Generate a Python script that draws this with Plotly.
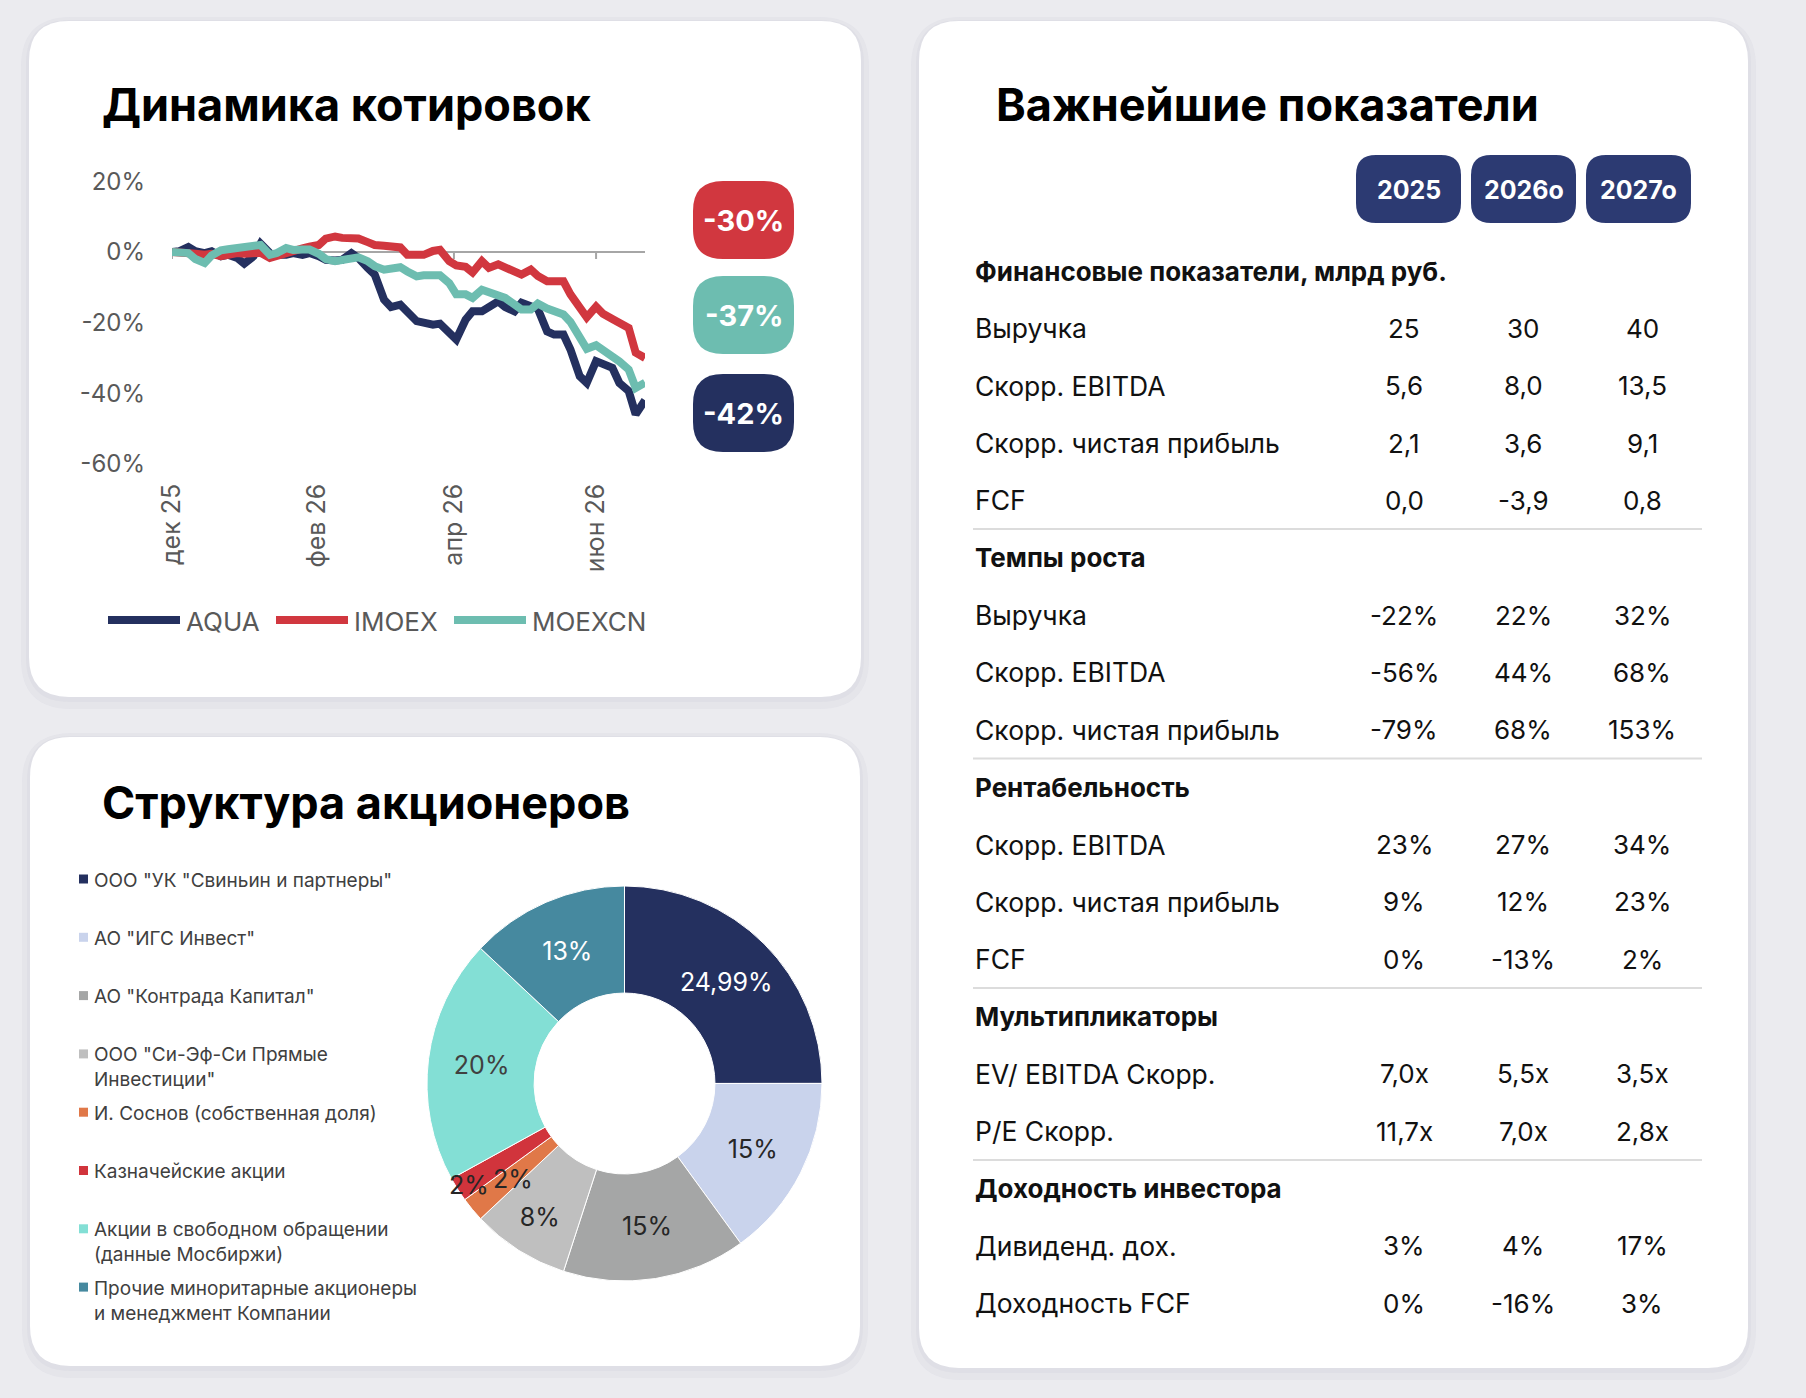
import math
import plotly.graph_objects as go

W, H = 1806, 1398

# Динамика котировок, % к 01.12.2025
dates = [
    "2025-12-01", "2025-12-04", "2025-12-08", "2025-12-11", "2025-12-15", "2025-12-18", "2025-12-22", "2025-12-25", "2025-12-29",
    "2026-01-01", "2026-01-05", "2026-01-08", "2026-01-12", "2026-01-15", "2026-01-19", "2026-01-22", "2026-01-26", "2026-01-29",
    "2026-02-02", "2026-02-05", "2026-02-09", "2026-02-12", "2026-02-16", "2026-02-19", "2026-02-23", "2026-02-26",
    "2026-03-02", "2026-03-05", "2026-03-09", "2026-03-12", "2026-03-16", "2026-03-19", "2026-03-23", "2026-03-26", "2026-03-30",
    "2026-04-02", "2026-04-06", "2026-04-09", "2026-04-13", "2026-04-16", "2026-04-20", "2026-04-23", "2026-04-27", "2026-04-30",
    "2026-05-04", "2026-05-07", "2026-05-11", "2026-05-14", "2026-05-18", "2026-05-21", "2026-05-25", "2026-05-28",
    "2026-06-01", "2026-06-04", "2026-06-08", "2026-06-11", "2026-06-15", "2026-06-18", "2026-06-22",
]
aqua = [
    0, 0.2, 1.4, 0.2, -0.3, 0.2, -1.2, -0.8, -1.7,
    -3.3, -1.2, 2.4, -0.3, -0.8, -0.8, -0.3, -0.8, -0.3,
    -1.2, -2.2, -2.4, -2.2, -0.3, -1.7, -4.5, -6.4,
    -13.5, -15.6, -14.9, -16.8, -19.6, -20.0, -20.6, -20.3, -22.9,
    -24.8, -19.2, -16.8, -16.8, -15.4, -14.0, -15.6, -16.8, -14.4,
    -15.2, -16.1, -22.5, -23.4, -23.4, -27.6, -35.2, -37.1,
    -30.9, -31.6, -32.8, -37.1, -39.4, -46.0, -42.0,
]
imoex = [
    0, 0, -0.3, -0.5, -0.8, -0.5, -1.2, -0.8, -0.3,
    -0.5, -0.5, -0.2, -1.7, -1.0, -0.5, 0.2, 1.0, 1.5,
    2.0, 3.8, 4.4, 4.0, 4.2, 3.8, 2.8, 2.0,
    1.8, 1.4, 1.3, -0.8, -1.0, -0.8, 0.3, 0.6, -2.6,
    -3.8, -4.2, -5.8, -2.6, -4.5, -3.5, -4.2, -5.5, -6.4,
    -5.0, -6.8, -8.3, -8.5, -8.3, -12.0, -16.0, -18.5,
    -15.5, -17.5, -19.0, -20.0, -21.5, -28.5, -30.0,
]
moexcn = [
    0, 0, -0.3, -2.0, -3.1, -1.0, 0.5, 0.8, 1.1,
    1.4, 1.8, 2.0, -0.8, -0.3, 1.1, 0.6, 0.7, 0.7,
    -0.5, -2.0, -2.6, -2.2, -1.8, -1.5, -2.6, -4.0,
    -5.0, -4.6, -4.3, -5.5, -6.9, -6.6, -6.9, -6.6, -8.8,
    -12.0, -12.0, -13.0, -10.7, -11.5, -12.5, -13.0, -14.9, -16.3,
    -16.3, -14.6, -16.0, -16.8, -17.7, -19.8, -24.3, -27.4,
    -26.4, -27.6, -29.8, -31.0, -33.3, -38.5, -37.0,
]
series_names = ["AQUA", "IMOEX", "MOEXCN"]
series_colors = ["#24305f", "#d1373f", "#6dbdb0"]

y_ticks = [-60, -40, -20, 0, 20]
y_ticktext = ["-60%", "-40%", "-20%", "0%", "20%"]
x_ticks = ["2025-12-01", "2026-02-01", "2026-04-01", "2026-06-01"]
x_ticktext = ["дек 25", "фев 26", "апр 26", "июн 26"]

# Структура акционеров
holders = [
    'ООО "УК "Свиньин и партнеры"',
    'АО "ИГС Инвест"',
    'АО "Контрада Капитал"',
    'ООО "Си-Эф-Си Прямые<br>Инвестиции"',
    'И. Соснов (собственная доля)',
    'Казначейские акции',
    'Акции в свободном обращении<br>(данные Мосбиржи)',
    'Прочие миноритарные акционеры<br>и менеджмент Компании',
]
shares = [24.99, 15, 15, 8, 2, 2, 20, 13]
pie_colors = ["#24305f", "#c9d3ec", "#a5a6a6", "#bfbfbf", "#e07848", "#d1343c", "#83dfd5", "#46899f"]
pie_text_colors = ["white", "#262626", "#262626", "#262626", "#262626", "#262626", "#404040", "white"]

# Важнейшие показатели
years = ["2025", "2026о", "2027о"]
sec_titles = ["Финансовые показатели, млрд руб.", "Темпы роста", "Рентабельность",
              "Мультипликаторы", "Доходность инвестора"]
fin_rows = ["Выручка", "Скорр. EBITDA", "Скорр. чистая прибыль", "FCF"]
fin_vals = [["25", "30", "40"], ["5,6", "8,0", "13,5"], ["2,1", "3,6", "9,1"], ["0,0", "-3,9", "0,8"]]
growth_rows = ["Выручка", "Скорр. EBITDA", "Скорр. чистая прибыль"]
growth_vals = [["-22%", "22%", "32%"], ["-56%", "44%", "68%"], ["-79%", "68%", "153%"]]
margin_rows = ["Скорр. EBITDA", "Скорр. чистая прибыль", "FCF"]
margin_vals = [["23%", "27%", "34%"], ["9%", "12%", "23%"], ["0%", "-13%", "2%"]]
mult_rows = ["EV/ EBITDA Скорр.", "P/E Скорр."]
mult_vals = [["7,0x", "5,5x", "3,5x"], ["11,7x", "7,0x", "2,8x"]]
yield_rows = ["Дивиденд. дох.", "Доходность FCF"]
yield_vals = [["3%", "4%", "17%"], ["0%", "-16%", "3%"]]

FONT = "Inter"


def px(x):
    return x / W


def py(y):
    return 1 - y / H


def rrect(x0, y0, x1, y1, r, color):
    p = lambda x, y: f"{px(x):.5f},{py(y):.5f}"
    path = (f"M{p(x0 + r, y0)} L{p(x1 - r, y0)} Q{p(x1, y0)} {p(x1, y0 + r)} "
            f"L{p(x1, y1 - r)} Q{p(x1, y1)} {p(x1 - r, y1)} L{p(x0 + r, y1)} "
            f"Q{p(x0, y1)} {p(x0, y1 - r)} L{p(x0, y0 + r)} Q{p(x0, y0)} {p(x0 + r, y0)} Z")
    return dict(type="path", xref="paper", yref="paper", path=path,
                fillcolor=color, line=dict(width=0), layer="below")


def ann(x, y, text, size, color="#111111", weight=400, xanchor="left", yanchor="middle"):
    return dict(x=px(x), y=py(y), xref="paper", yref="paper", text=text, showarrow=False,
                xanchor=xanchor, yanchor=yanchor, align="left",
                font=dict(family=FONT, size=size, color=color, weight=weight))


def pct(v):
    return f"{v:g}".replace(".", ",") + "%"


fig = go.Figure()

for name, vals, col in zip(series_names, [aqua, imoex, moexcn], series_colors):
    fig.add_trace(go.Scatter(x=dates, y=vals, name=name, mode="lines",
                             line=dict(color=col, width=8), showlegend=False))

# маленькие доли подписываем отдельно, как в Excel
small = [v < 5 for v in shares]
pie_cx, pie_cy, pie_r = 624.5, 1083.5, 197.5
fig.add_trace(go.Pie(
    labels=[h.replace("<br>", " ") for h in holders], values=shares, sort=False,
    direction="clockwise", hole=0.458, automargin=False,
    marker=dict(colors=pie_colors, line=dict(color="white", width=1)),
    text=["" if s else pct(v) for v, s in zip(shares, small)], textinfo="text",
    textposition="inside", insidetextorientation="horizontal",
    textfont=dict(family=FONT, size=25, color=pie_text_colors),
    domain=dict(x=[px(pie_cx - pie_r), px(pie_cx + pie_r)],
                y=[py(pie_cy + pie_r), py(pie_cy - pie_r)]),
    showlegend=False,
))

shapes = []
annotations = []

# подписи маленьких долей
total = sum(shares)
cum = 0
label_r = iter([145, 184])
for v, s, tc in zip(shares, small, pie_text_colors):
    if s:
        a = math.radians((cum + v / 2) / total * 360)
        r = next(label_r)
        annotations.append(ann(pie_cx + r * math.sin(a), pie_cy - r * math.cos(a) + 3, pct(v),
                               25, tc, 400, "center"))
    cum += v

# карточки с тенью
for (x0, y0, x1, y1) in [(29, 21, 861, 697), (30, 737, 860, 1366), (919, 21, 1748, 1368)]:
    shapes.append(rrect(x0 - 8, y0 - 4, x1 + 8, y1 + 12, 50, "rgba(120,120,150,0.05)"))
    shapes.append(rrect(x0 - 3, y0 - 1, x1 + 3, y1 + 5, 44, "rgba(120,120,150,0.05)"))
    shapes.append(rrect(x0, y0, x1, y1, 40, "white"))

annotations.append(ann(100, 105, "Динамика котировок", 45, "black", 700))
annotations.append(ann(100, 802, "Структура акционеров", 45, "black", 700))
annotations.append(ann(994, 105, "Важнейшие показатели", 45, "black", 700))

# засечки на нулевой линии
for t in x_ticks:
    shapes.append(dict(type="line", xref="x", yref="y", x0=t, x1=t, y0=0, y1=-2,
                       line=dict(color="#a6a6a6", width=2), layer="below"))

# бейджи с итоговым изменением
badge_rows = {"IMOEX": 220, "MOEXCN": 315, "AQUA": 413}
for name, vals, col in zip(series_names, [aqua, imoex, moexcn], series_colors):
    yc = badge_rows[name]
    shapes.append(rrect(693, yc - 39, 794, yc + 39, 30, col))
    annotations.append(ann(743.5, yc, f"{vals[-1]:.0f}%", 29, "white", 700, "center"))

# легенда линий
leg_x = [108, 276, 454]
for x0, name, col in zip(leg_x, series_names, series_colors):
    shapes.append(dict(type="line", xref="paper", yref="paper", x0=px(x0), x1=px(x0 + 72),
                       y0=py(620), y1=py(620), line=dict(color=col, width=8)))
    annotations.append(ann(x0 + 76, 621, name, 26, "#595959"))

# легенда круговой диаграммы
for i, (lab, col) in enumerate(zip(holders, pie_colors)):
    yc = 879 + 58.3 * i
    shapes.append(dict(type="rect", xref="paper", yref="paper", x0=px(79), x1=px(88),
                       y0=py(yc + 4.5), y1=py(yc - 4.5), fillcolor=col, line=dict(width=0)))
    annotations.append(ann(92, yc - 12.5, lab, 19, "#404040", 400, "left", "top"))

# шапка таблицы
col_x = [1404, 1523, 1642]
pill_x = [(1356, 1461), (1471, 1576), (1586, 1691)]
for (x0, x1), yr in zip(pill_x, years):
    shapes.append(rrect(x0, 155, x1, 223, 20, "#2c3a72"))
    annotations.append(ann((x0 + x1) / 2, 190, yr, 25, "white", 700, "center"))

# строки таблицы
blocks = [(fin_rows, fin_vals), (growth_rows, growth_vals), (margin_rows, margin_vals),
          (mult_rows, mult_vals), (yield_rows, yield_vals)]
row = 0
for k, (title, (labels, vals)) in enumerate(zip(sec_titles, blocks)):
    if k > 0:
        yl = 271 + 57.35 * (row - 0.5)
        shapes.append(dict(type="line", xref="paper", yref="paper", x0=px(973), x1=px(1702),
                           y0=py(yl), y1=py(yl), line=dict(color="#dcdcdc", width=2)))
    annotations.append(ann(973, 271 + 57.35 * row, title, 26, "#111111", 700))
    row += 1
    for lab, v in zip(labels, vals):
        yc = 271 + 57.35 * row
        annotations.append(ann(973, yc, lab, 26.5))
        for cx, s in zip(col_x, v):
            annotations.append(ann(cx, yc, s, 26, "#111111", 400, "center"))
        row += 1

fig.update_layout(
    width=W, height=H,
    margin=dict(l=0, r=0, t=0, b=0, pad=0),
    paper_bgcolor="#ebebef", plot_bgcolor="rgba(0,0,0,0)",
    font=dict(family=FONT),
    showlegend=False,
    uniformtext=dict(minsize=25, mode="show"),
    xaxis=dict(domain=[px(172), px(645)], range=["2025-12-01", "2026-06-22"],
               tickvals=x_ticks, ticktext=x_ticktext, tickangle=-90, automargin=False,
               showgrid=False, zeroline=False, showline=False, ticks="",
               ticklabelstandoff=14, tickfont=dict(size=25, color="#595959")),
    yaxis=dict(domain=[py(463.8), py(181.4)], range=[-60, 20], automargin=False,
               tickvals=y_ticks, ticktext=y_ticktext,
               showgrid=False, zeroline=True, zerolinecolor="#a6a6a6", zerolinewidth=2,
               showline=False, ticks="", ticklabelstandoff=26,
               tickfont=dict(size=24, color="#595959")),
    shapes=shapes, annotations=annotations,
)

fig.write_html("out.html", config={"displayModeBar": False},
               post_script="document.body.style.margin='0';")
